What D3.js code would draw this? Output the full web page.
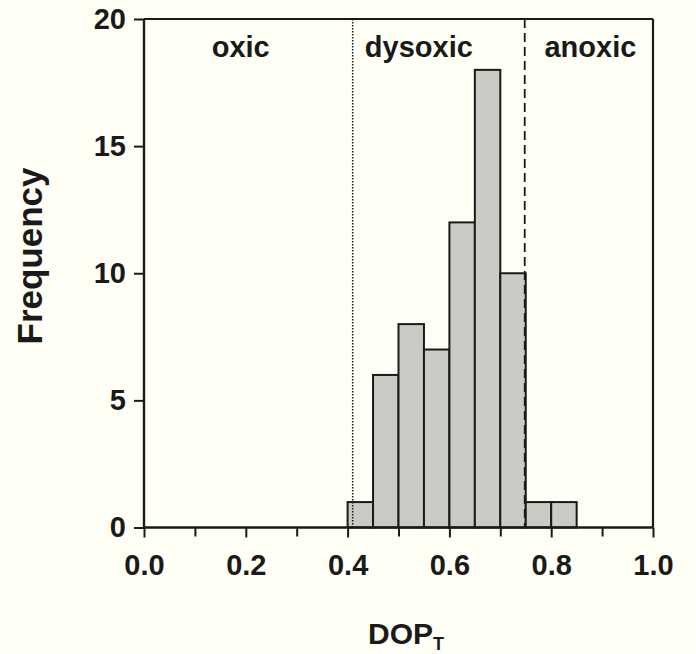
<!DOCTYPE html>
<html><head><meta charset="utf-8">
<script src="https://cdn.jsdelivr.net/npm/d3@7"></script>
<style>
html,body{margin:0;padding:0;background:#fffff5;}
svg{display:block;}
text{font-family:"Liberation Sans",Arial,Helvetica,sans-serif;font-weight:bold;fill:#1a1a1a;}
</style></head>
<body>
<svg id="chart" width="696" height="654"></svg>
<script>
const binStarts = [0.40, 0.45, 0.50, 0.55, 0.60, 0.65, 0.70, 0.75, 0.80];
const binWidth = 0.05;
const frequencies = [1, 6, 8, 7, 12, 18, 10, 1, 1];
const xTicks = [0.0, 0.2, 0.4, 0.6, 0.8, 1.0];
const xMinorTicks = [0.1, 0.3, 0.5, 0.7, 0.9];
const yTicks = [0, 5, 10, 15, 20];
const zoneNames = ["oxic", "dysoxic", "anoxic"];
const zoneLabelX = [0.19, 0.54, 0.877];
const oxicBoundary = 0.41;
const anoxicBoundary = 0.748;

(function () {
const svg = d3.select("#chart");
const pLeft = 144, pRight = 653, pTop = 19, pBottom = 527.5;
const x = d3.scaleLinear().domain([0, 1]).range([pLeft, pRight]);
const y = d3.scaleLinear().domain([0, 20]).range([pBottom, pTop]);
const ink = "#1a1a1a";

// bars
svg.append("g").selectAll("rect").data(binStarts).join("rect")
  .attr("x", (d) => x(d))
  .attr("width", (d) => x(d + binWidth) - x(d))
  .attr("y", (d, i) => y(frequencies[i]))
  .attr("height", (d, i) => y(0) - y(frequencies[i]))
  .attr("fill", "#cbcbc6")
  .attr("stroke", ink)
  .attr("stroke-width", 2);

// boundaries
svg.append("line").attr("x1", x(oxicBoundary)).attr("x2", x(oxicBoundary))
  .attr("y1", y(20)).attr("y2", y(0))
  .attr("stroke", ink).attr("stroke-width", 1.5).attr("stroke-dasharray", "1.5,1.5");
svg.append("line").attr("x1", x(anoxicBoundary)).attr("x2", x(anoxicBoundary))
  .attr("y1", y(20)).attr("y2", y(0))
  .attr("stroke", ink).attr("stroke-width", 1.8).attr("stroke-dasharray", "9,5");

// frame top and right
svg.append("line").attr("x1", x(0)).attr("x2", x(1)).attr("y1", y(20)).attr("y2", y(20))
  .attr("stroke", ink).attr("stroke-width", 2.2);
svg.append("line").attr("x1", x(1)).attr("x2", x(1)).attr("y1", y(20)).attr("y2", y(0))
  .attr("stroke", ink).attr("stroke-width", 2.2);

// x axis
const xAxis = d3.axisBottom(x).tickValues(xTicks).tickFormat(d3.format(".1f")).tickSize(10).tickPadding(17);
const gx = svg.append("g").attr("transform", `translate(0,${pBottom})`).call(xAxis);
const gxm = svg.append("g").attr("transform", `translate(0,${pBottom})`)
  .call(d3.axisBottom(x).tickValues(xMinorTicks).tickFormat("").tickSize(9));
gxm.select(".domain").remove();

// y axis
const yAxis = d3.axisLeft(y).tickValues(yTicks).tickSize(10).tickPadding(8);
const gy = svg.append("g").attr("transform", `translate(${pLeft},0)`).call(yAxis);

[gx, gxm, gy].forEach(g => {
  g.select(".domain").attr("stroke", ink).attr("stroke-width", 2.4);
  g.selectAll(".tick line").attr("stroke", ink).attr("stroke-width", 2);
  g.selectAll(".tick text").attr("font-size", 29).attr("font-family", "Liberation Sans, Arial, sans-serif")
    .attr("font-weight", "bold").attr("fill", ink);
});
gx.select(".domain").attr("d", `M${pLeft},0H${pRight}`);
gy.select(".domain").attr("d", `M0,${pTop}V${pBottom}`);

// zone labels
svg.append("g").selectAll("text").data(zoneNames).join("text")
  .attr("x", (d, i) => x(zoneLabelX[i]))
  .attr("y", 57)
  .attr("text-anchor", "middle")
  .attr("font-size", 29)
  .text(d => d);

// axis titles
svg.append("text")
  .attr("transform", "translate(42,256) rotate(-90)")
  .attr("text-anchor", "middle")
  .attr("font-size", 35)
  .text("Frequency");

const xt = svg.append("text").attr("x", 406).attr("y", 644).attr("text-anchor", "middle").attr("font-size", 30);
xt.append("tspan").text("DOP");
xt.append("tspan").attr("font-size", 18).attr("dy", 6).text("T");
})();
</script>
</body></html>
